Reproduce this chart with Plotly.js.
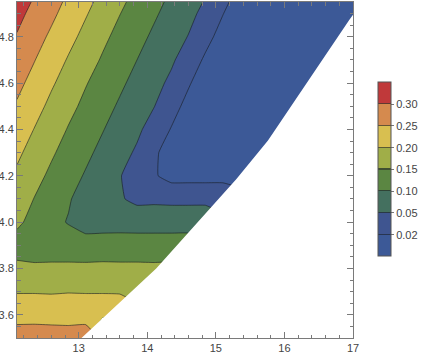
<!DOCTYPE html>
<html>
<head>
<meta charset="utf-8">
<script src="https://cdn.plot.ly/plotly-3.0.1.min.js"></script>
<style>
  html, body { margin: 0; padding: 0; background: #fff; }
  #chart { width: 424px; height: 356px; }
</style>
</head>
<body>
<div id="chart"></div>
<script>
// grid of the sampled field (x columns, y rows)
const gridX = [12.1, 12.35, 12.6, 12.85, 13.1, 13.35, 13.6, 13.85, 14.1, 14.35, 14.6,
               14.85, 15.1, 15.35, 15.6, 15.85, 16.1, 16.35, 16.6, 16.85, 17.1];
const gridY = [3.5, 3.6, 3.7, 3.8, 3.9, 4.0, 4.1, 4.2, 4.3, 4.4, 4.5, 4.6, 4.7, 4.8, 4.9, 5.0];

// values; null = outside the defined region
const _ = null;
const fieldZ = [
  [0.272, 0.272, 0.272, 0.271, 0.272, _, _, _, _, _, _, _, _, _, _, _, _, _, _, _, _],
  [0.234, 0.235, 0.233, 0.232, 0.234, 0.234, 0.234, _, _, _, _, _, _, _, _, _, _, _, _, _, _],
  [0.197, 0.197, 0.196, 0.198, 0.197, 0.197, 0.196, 0.197, _, _, _, _, _, _, _, _, _, _, _, _, _],
  [0.161, 0.160, 0.161, 0.161, 0.161, 0.162, 0.161, 0.161, 0.160, 0.161, _, _, _, _, _, _, _, _, _, _, _],
  [0.130, 0.121, 0.121, 0.121, 0.119, 0.121, 0.121, 0.121, 0.121, 0.121, 0.121, _, _, _, _, _, _, _, _, _, _],
  [0.159, 0.135, 0.112, 0.0975, 0.081, 0.081, 0.082, 0.081, 0.081, 0.081, 0.081, 0.081, _, _, _, _, _, _, _, _, _],
  [0.175, 0.149, 0.127, 0.104, 0.082, 0.061, 0.055, 0.043, 0.044, 0.043, 0.043, 0.043, 0.043, _, _, _, _, _, _, _, _],
  [0.192, 0.165, 0.141, 0.118, 0.096, 0.075, 0.053, 0.033, 0.023, 0.0134, 0.0134, 0.0134, 0.0134, 0.0134, _, _, _, _, _, _, _],
  [0.209, 0.182, 0.156, 0.133, 0.110, 0.088, 0.067, 0.046, 0.025, 0.011, 0.004, 0.004, 0.004, 0.004, 0.004, 0.004, _, _, _, _, _],
  [0.227, 0.199, 0.173, 0.147, 0.124, 0.102, 0.080, 0.059, 0.038, 0.019, 0.006, 0, 0, 0, 0, 0, 0, _, _, _, _],
  [0.245, 0.217, 0.189, 0.163, 0.139, 0.116, 0.094, 0.073, 0.051, 0.031, 0.014, 0.001, 0, 0, 0, 0, 0, 0, _, _, _],
  [0.262, 0.235, 0.206, 0.180, 0.153, 0.130, 0.108, 0.086, 0.065, 0.044, 0.023, 0.009, 0, 0, 0, 0, 0, 0, 0, _, _],
  [0.279, 0.252, 0.224, 0.196, 0.170, 0.145, 0.122, 0.100, 0.078, 0.057, 0.036, 0.017, 0.005, 0, 0, 0, 0, 0, 0, _, _],
  [0.297, 0.269, 0.242, 0.214, 0.187, 0.160, 0.136, 0.114, 0.092, 0.071, 0.049, 0.029, 0.013, 0, 0, 0, 0, 0, 0, 0, _],
  [0.313, 0.287, 0.260, 0.232, 0.204, 0.177, 0.151, 0.128, 0.106, 0.084, 0.063, 0.042, 0.021, 0.008, 0, 0, 0, 0, 0, 0, 0],
  [0.330, 0.304, 0.277, 0.249, 0.221, 0.194, 0.168, 0.143, 0.120, 0.098, 0.076, 0.055, 0.034, 0.016, 0.004, 0, 0, 0, 0, 0, 0]
];

// contour levels (uneven) and band colours, lowest band first
const levels = [0.02, 0.05, 0.10, 0.15, 0.20, 0.25, 0.30];
const levelLabels = ['0.02', '0.05', '0.10', '0.15', '0.20', '0.25', '0.30'];
const bandColors = ['#3C5997', '#3F5590', '#44705F', '#5B8642', '#A0AE48', '#D8BF50', '#D58A4E', '#C0393A'];

// edge of the region where the function is defined
const edgeX = [12.95, 13.04, 14.13, 15.30, 15.76, 16.94, 17.2];
const edgeY = [3.475, 3.50, 3.80, 4.186, 4.352, 4.87, 4.98];

// plotly only does evenly spaced contours, so work in "level index" space
const toLevelIndex = (v) => {
    if (v === null) return null;
    if (v <= levels[0]) return v / levels[0];
    for (let i = 1; i < levels.length; i++) {
        if (v <= levels[i]) return i + (v - levels[i - 1]) / (levels[i] - levels[i - 1]);
    }
    return levels.length + (v - levels[levels.length - 1]) / 0.05;
};

const zIndex = fieldZ.map(row => row.map(toLevelIndex));
const nBands = bandColors.length;
const colorscale = bandColors.map((c, i) => [i / (nBands - 1), c]);

// hard-step version of the same colours for the legend bar,
// with a thin dark stripe at every level like the contour lines
const lineRgb = [25, 30, 35];
const hexRgb = (h) => [1, 3, 5].map(i => parseInt(h.substr(i, 2), 16));
const stripeColor = (a, b) => {
    const A = hexRgb(a), B = hexRgb(b);
    const m = A.map((v, i) => Math.round(0.4 * (v + B[i]) / 2 + 0.6 * lineRgb[i]));
    return `rgb(${m.join(',')})`;
};
const halfStripe = 0.6 / 174;
const stepScale = [];
bandColors.forEach((c, i) => {
    const lo = i / nBands, hi = (i + 1) / nBands;
    stepScale.push([i === 0 ? 0 : lo + halfStripe, c]);
    stepScale.push([i === nBands - 1 ? 1 : hi - halfStripe, c]);
    if (i < nBands - 1) {
        const s = stripeColor(c, bandColors[i + 1]);
        stepScale.push([hi - halfStripe, s], [hi + halfStripe, s]);
    }
});

const lineColor = 'rgba(25,30,35,0.6)';
const tickFont = { family: 'Liberation Sans, Arial, sans-serif', size: 11, color: '#444' };

const contourTrace = {
    type: 'contour',
    x: gridX,
    y: gridY,
    z: zIndex,
    autocontour: false,
    contours: { start: 1, end: levels.length, size: 1, coloring: 'fill', showlines: true },
    line: { color: lineColor, width: 1, smoothing: 0.3 },
    colorscale: colorscale,
    showscale: false,
    hoverinfo: 'skip'
};

// invisible carrier for the level legend
const legendTrace = {
    type: 'heatmap',
    x: [15.8, 16.8],
    y: [3.6],
    z: [[0, nBands]],
    zmin: 0, zmax: nBands,
    colorscale: stepScale,
    opacity: 0,
    hoverinfo: 'skip',
    colorbar: {
        x: 1.075, xanchor: 'left', xpad: 0,
        y: 0.5015, yanchor: 'middle', ypad: 0,
        len: 174, lenmode: 'pixels',
        thickness: 13,
        outlinecolor: '#555', outlinewidth: 1,
        tickvals: levels.map((v, i) => i + 1),
        ticktext: levelLabels,
        ticks: 'outside', ticklen: 3, tickcolor: '#777', tickwidth: 1,
        tickfont: tickFont
    }
};

const maskTrace = {
    type: 'scatter',
    mode: 'lines',
    x: edgeX.concat([17.2, edgeX[0]]),
    y: edgeY.concat([3.4, 3.4]),
    fill: 'toself',
    fillcolor: '#ffffff',
    line: { width: 0, color: '#ffffff' },
    hoverinfo: 'skip',
    showlegend: false
};

const axisStyle = {
    showgrid: false, zeroline: false,
    showline: true, linecolor: '#7a7a7a', linewidth: 1, mirror: 'ticks',
    ticks: 'inside', ticklen: 6, tickcolor: '#7a7a7a', tickwidth: 1,
    tickfont: tickFont, automargin: false
};

const layout = {
    width: 424, height: 356,
    margin: { l: 17, r: 71, t: 2, b: 18 },
    paper_bgcolor: '#fff', plot_bgcolor: '#fff',
    showlegend: false,
    xaxis: Object.assign({}, axisStyle, {
        range: [12.1, 17], tick0: 13, dtick: 1,
        minor: { dtick: 0.2, ticks: 'inside', ticklen: 3.5, tickcolor: '#7a7a7a' }
    }),
    yaxis: Object.assign({}, axisStyle, {
        range: [3.5, 4.95], tick0: 3.6, dtick: 0.2, tickformat: '.1f',
        minor: { dtick: 0.05, ticks: 'inside', ticklen: 3.5, tickcolor: '#7a7a7a' }
    })
};

Plotly.newPlot('chart', [contourTrace, legendTrace, maskTrace], layout, { staticPlot: true, displayModeBar: false });
</script>
</body>
</html>
